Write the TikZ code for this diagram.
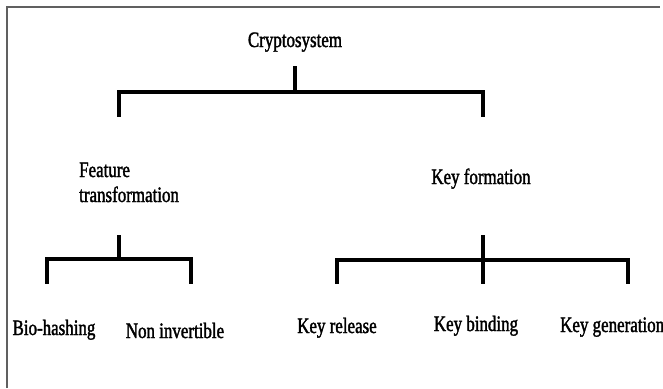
\documentclass[tikz,border=0pt]{standalone}
\usepackage{fontspec}
\setmainfont[FakeStretch=0.77,FakeBold=1.6]{Liberation Serif}
\begin{document}
\begin{tikzpicture}[x=1pt,y=-1pt,
  lbl/.style={inner sep=0pt,anchor=base,font=\fontsize{22}{25}\selectfont},
  bar/.style={line width=3.5pt,line join=miter,line cap=rect},
  frame/.style={line width=2pt,draw={rgb,255:red,96;green,96;blue,96}}]
\useasboundingbox (0,0) rectangle (663,388);
% outer frame (top and left edges)
\draw[frame] (7,388) |- (660,7);

% labels
\node[lbl] (crypto) at (295,47) {Cryptosystem};
\node[lbl,anchor=base west,align=left] (feat) at (79,202) {Feature\\transformation};
\node[lbl] (keyf) at (481,184) {Key formation};
\node[lbl] (bio) at (54,335) {Bio-hashing};
\node[lbl] (noninv) at (175,338) {Non invertible};
\node[lbl] (keyrel) at (337,333) {Key release};
\node[lbl] (keybind) at (476,331) {Key binding};
\node[lbl,anchor=base west] (keygen) at (560,332) {Key generation};

% junction points of the brackets
\coordinate (c-stem) at (295,68);
\coordinate (c-j) at (295,92);
\coordinate (f-drop) at (119,115);
\coordinate (k-drop) at (483,115);
\coordinate (f-stem) at (119,237);
\coordinate (f-j) at (119,259);
\coordinate (b-drop) at (47,282);
\coordinate (n-drop) at (191,282);
\coordinate (k-stem) at (483,237);
\coordinate (k-j) at (483,260);
\coordinate (r-drop) at (337,282);
\coordinate (kb-drop) at (483,282);
\coordinate (g-drop) at (628,282);

% Cryptosystem bracket
\draw[bar] (c-stem) -- (c-j);
\draw[bar] (f-drop) |- (c-j) -| (k-drop);
% Feature transformation bracket
\draw[bar] (f-stem) -- (f-j);
\draw[bar] (b-drop) |- (f-j) -| (n-drop);
% Key formation bracket
\draw[bar] (k-stem) -- (kb-drop);
\draw[bar] (r-drop) |- (k-j) -| (g-drop);
\end{tikzpicture}
\end{document}
